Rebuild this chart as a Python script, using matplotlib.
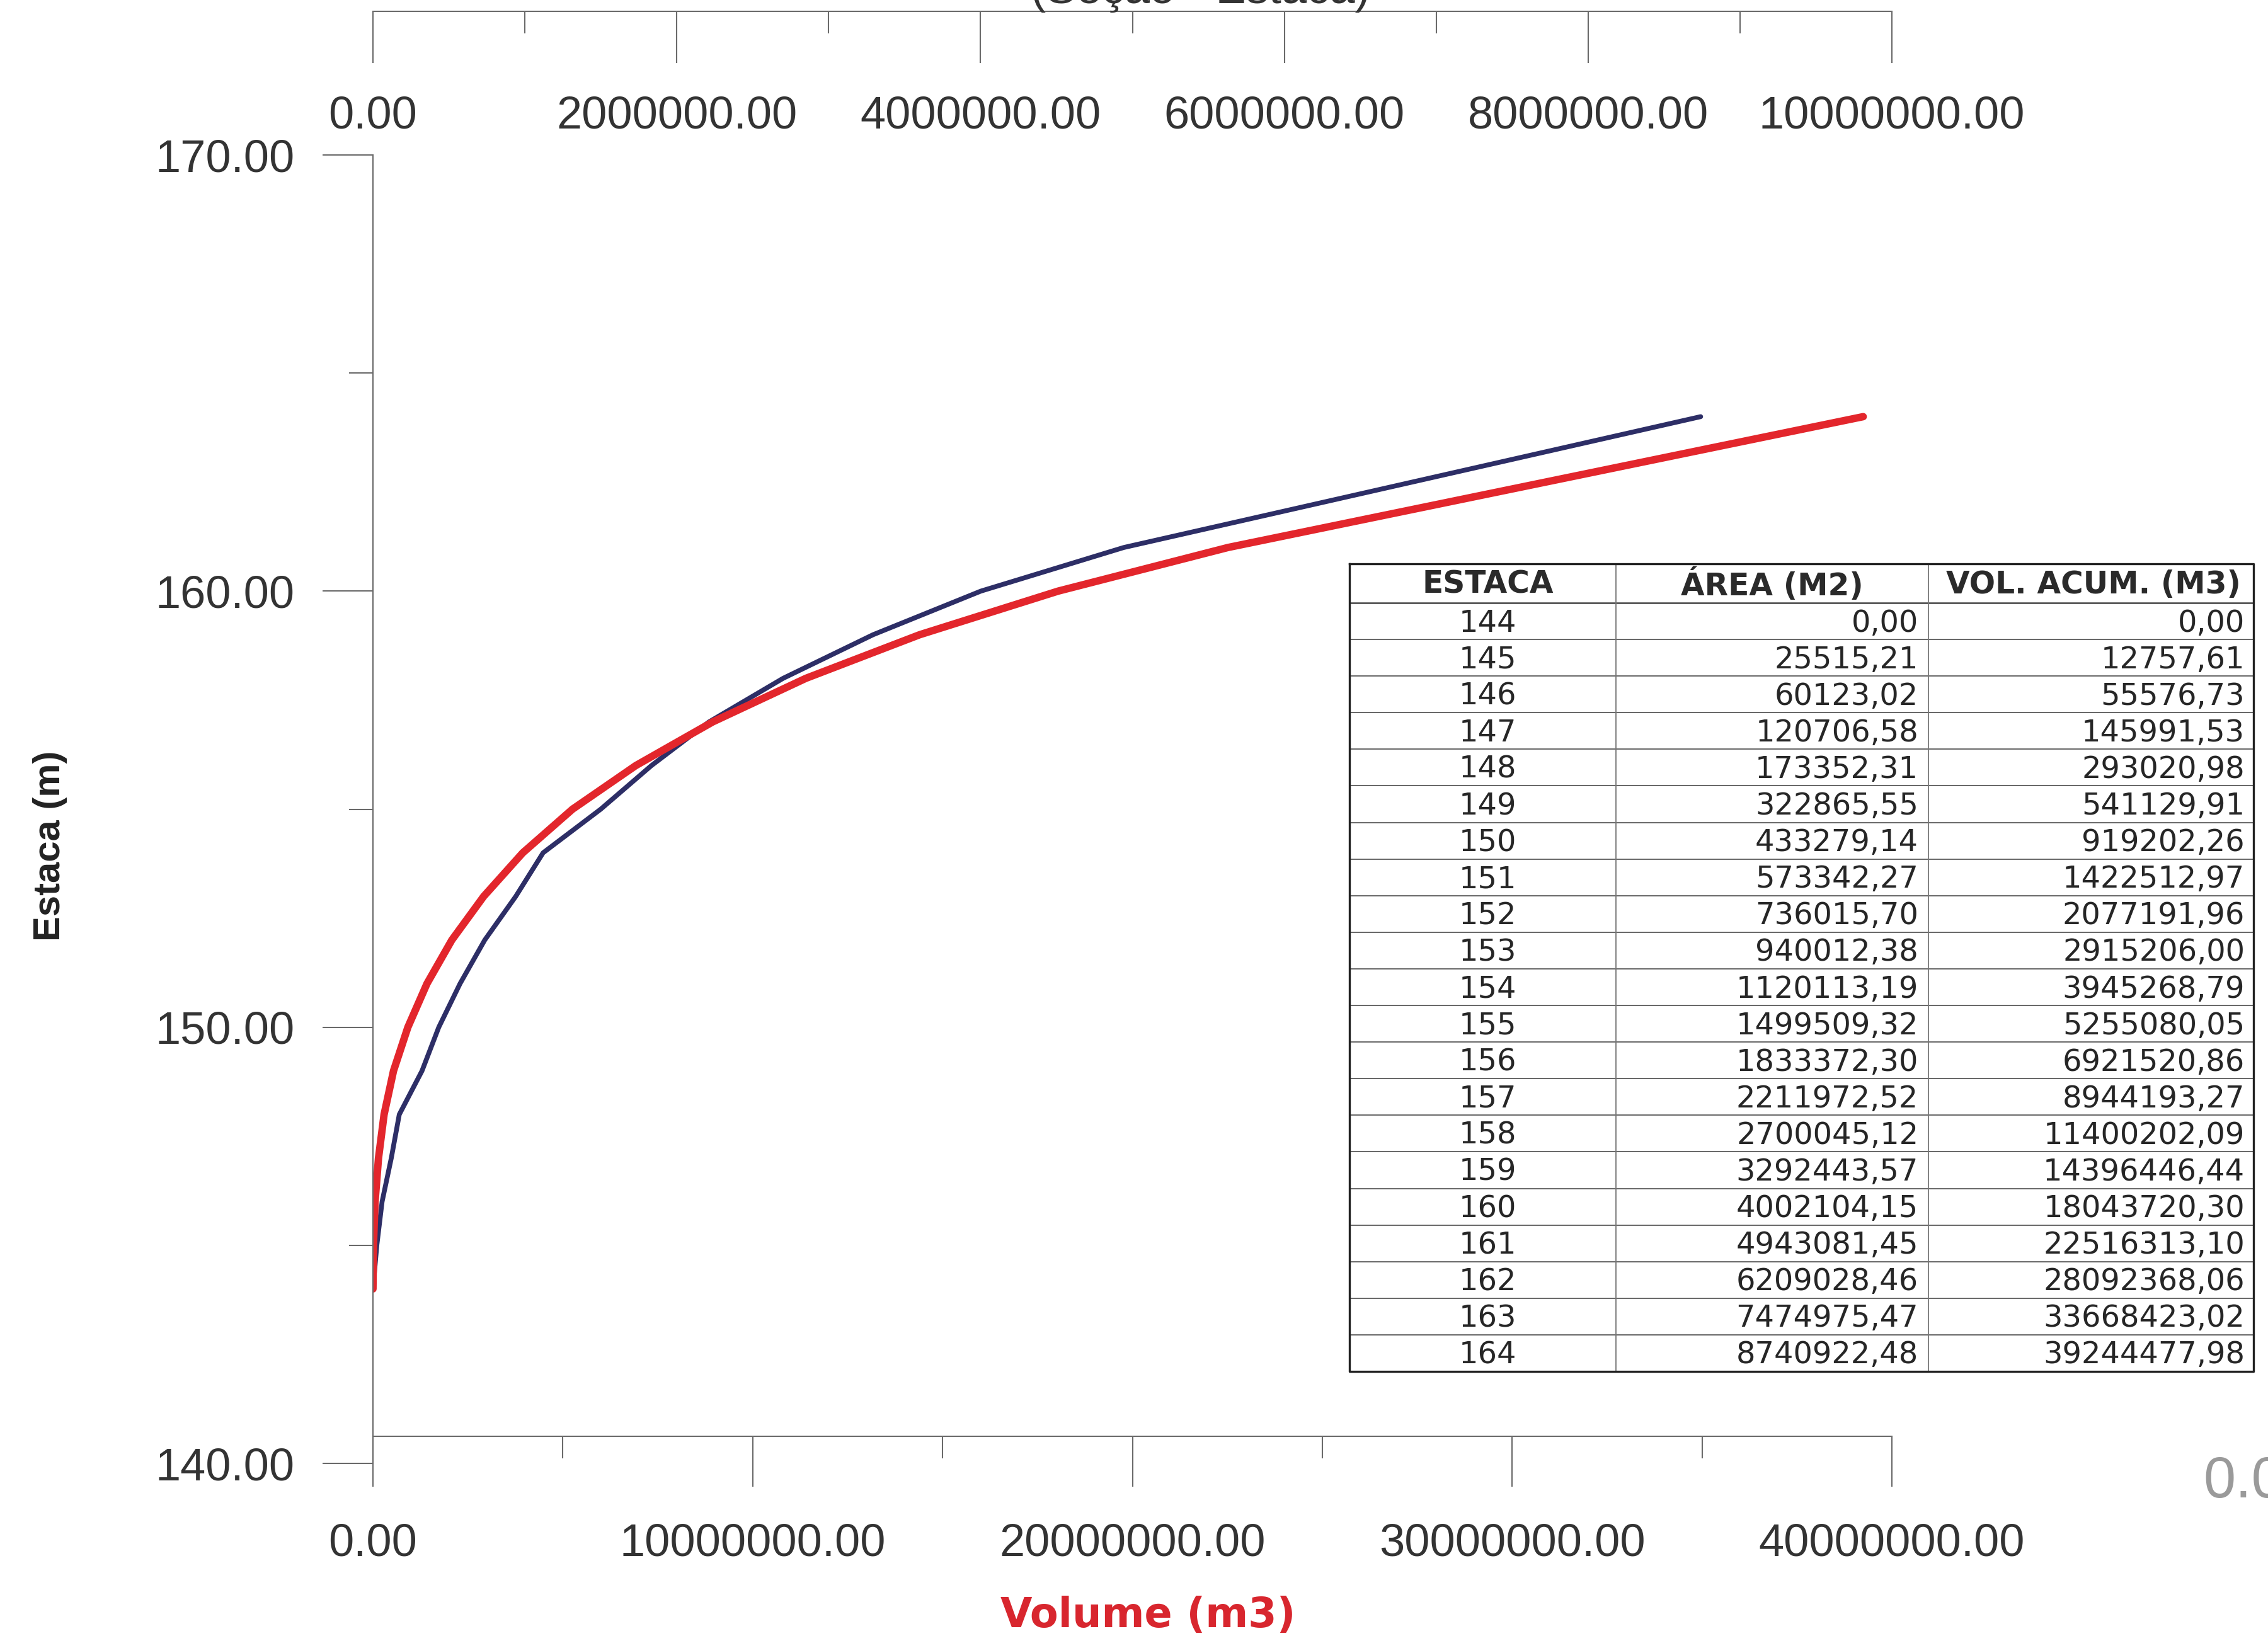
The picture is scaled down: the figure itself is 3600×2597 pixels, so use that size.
import matplotlib
matplotlib.use("Agg")
import matplotlib.pyplot as plt
from matplotlib import font_manager as fm
from matplotlib.ticker import MultipleLocator, FormatStrFormatter

# dados da tabela (estaca, area, volume acumulado)
estaca = [144, 145, 146, 147, 148, 149, 150, 151, 152, 153, 154,
          155, 156, 157, 158, 159, 160, 161, 162, 163, 164]
area_m2 = [0.00, 25515.21, 60123.02, 120706.58, 173352.31, 322865.55,
           433279.14, 573342.27, 736015.70, 940012.38, 1120113.19,
           1499509.32, 1833372.30, 2211972.52, 2700045.12, 3292443.57,
           4002104.15, 4943081.45, 6209028.46, 7474975.47, 8740922.48]
vol_m3 = [0.00, 12757.61, 55576.73, 145991.53, 293020.98, 541129.91,
          919202.26, 1422512.97, 2077191.96, 2915206.00, 3945268.79,
          5255080.05, 6921520.86, 8944193.27, 11400202.09, 14396446.44,
          18043720.30, 22516313.10, 28092368.06, 33668423.02, 39244477.98]
col_headers = ["ESTACA", "ÁREA (M2)", "VOL. ACUM. (M3)"]

W, H = 3600, 2597
fig = plt.figure(figsize=(W / 100, H / 100), dpi=100)

TICK_FONT = "Liberation Sans"
GRAY = "#6a6a6a"
TXT = "#333333"


def px(v):
    # pixels -> points (dpi 100)
    return v * 72 / 100


L, R = 592, 3003
T, B = 246, 2323
ax = fig.add_axes([L / W, 1 - B / H, (R - L) / W, (B - T) / H])
axb = ax.twiny()

# linhas
axb.plot(area_m2, estaca, color="#2d2e66", lw=5.5, solid_capstyle="round")
axb.set_xlim(0, 10000000)
axb.set_ylim(140, 170)
axb.axis("off")

ax.plot(vol_m3, estaca, color="#e3262c", lw=8.5, solid_capstyle="round")
ax.set_xlim(0, 40000000)
ax.set_ylim(140, 170)
ax.set_zorder(axb.get_zorder() + 1)
ax.patch.set_visible(False)

for s in ["top", "right"]:
    ax.spines[s].set_visible(False)
ax.spines["left"].set_color(GRAY)
ax.spines["bottom"].set_color(GRAY)
ax.spines["left"].set_linewidth(1.5)
ax.spines["bottom"].set_linewidth(1.5)
ax.spines["bottom"].set_position(("axes", (B - 2280) / (B - T)))

ax.yaxis.set_major_locator(MultipleLocator(10))
ax.yaxis.set_minor_locator(MultipleLocator(5))
ax.xaxis.set_major_locator(MultipleLocator(10000000))
ax.xaxis.set_minor_locator(MultipleLocator(5000000))
ax.yaxis.set_major_formatter(FormatStrFormatter("%.2f"))
ax.xaxis.set_major_formatter(FormatStrFormatter("%.2f"))
ax.tick_params(axis="y", which="major", direction="out", length=px(80),
               width=1.5, color=GRAY, pad=px(44), labelsize=52, labelcolor=TXT)
ax.tick_params(axis="y", which="minor", direction="out", length=px(38),
               width=1.5, color=GRAY)
ax.tick_params(axis="x", which="major", direction="out", length=px(80),
               width=1.5, color=GRAY, pad=px(58), labelsize=52, labelcolor=TXT)
ax.tick_params(axis="x", which="minor", direction="out", length=px(35),
               width=1.5, color=GRAY)
for lab in ax.get_xticklabels() + ax.get_yticklabels():
    lab.set_fontfamily(TICK_FONT)

# eixo superior (area)
top_y = 18
axt = fig.add_axes([L / W, 1 - top_y / H, (R - L) / W, 0.0001])
axt.set_xlim(0, 10000000)
axt.patch.set_visible(False)
for s in ["top", "right", "left"]:
    axt.spines[s].set_visible(False)
axt.spines["bottom"].set_color(GRAY)
axt.spines["bottom"].set_linewidth(1.5)
axt.set_yticks([])
axt.xaxis.set_major_locator(MultipleLocator(2000000))
axt.xaxis.set_minor_locator(MultipleLocator(1000000))
axt.xaxis.set_major_formatter(FormatStrFormatter("%.2f"))
axt.tick_params(axis="x", which="major", direction="out", length=px(82),
                width=1.5, color=GRAY, pad=px(51), labelsize=52, labelcolor=TXT)
axt.tick_params(axis="x", which="minor", direction="out", length=px(35),
                width=1.5, color=GRAY)
for lab in axt.get_xticklabels():
    lab.set_fontfamily(TICK_FONT)

# titulo do grafico, cortado na borda de cima como no original
fig.text(1905 / W, 1 - 5 / H, "(Seção - Estaca)", ha="center", va="baseline",
         fontsize=52, color=TXT, family=TICK_FONT)

names = {f.name for f in fm.fontManager.ttflist}
if "Liberation Sans Narrow" in names:
    fig.text(80 / W, 1 - 1343 / H, "Estaca (m)", rotation=90, ha="center",
             va="center", fontsize=50, weight="bold", color="#222222",
             family="Liberation Sans Narrow")
else:
    fig.text(80 / W, 1 - 1343 / H, "Estaca (m)", rotation=90, ha="center",
             va="center", fontsize=43, weight="bold", color="#222222",
             family="Liberation Sans")

fig.text(1822 / W, 1 - 2565 / H, "Volume (m3)", ha="center", va="center",
         fontsize=47, weight="bold", color="#d8262e", family="DejaVu Sans")

# pedaco de outro grafico cortado na margem direita
fig.text(3497 / W, 1 - 2353 / H, "0.00", ha="left", va="center",
         fontsize=66, color="#9a9a9a", family=TICK_FONT)

# tabela
ov = fig.add_axes([0, 0, 1, 1], zorder=10)
ov.set_xlim(0, W)
ov.set_ylim(H, 0)
ov.axis("off")

tx0, tx1, tx2, tx3 = 2142, 2565, 3061, 3577
ty0, ty_head, ty1 = 895, 957, 2177
nrows = len(estaca)
rh = (ty1 - ty_head) / nrows

ov.fill([tx0, tx3, tx3, tx0], [ty0, ty0, ty1, ty1], color="white", zorder=1)
for k in range(1, nrows):
    yy = ty_head + k * rh
    ov.plot([tx0, tx3], [yy, yy], color="#666666", lw=1.4, zorder=2)
ov.plot([tx0, tx3], [ty_head, ty_head], color="#444444", lw=1.8, zorder=2)
for xx in (tx1, tx2):
    ov.plot([xx, xx], [ty0, ty1], color="#777777", lw=1.3, zorder=2)
ov.plot([tx0, tx3, tx3, tx0, tx0], [ty0, ty0, ty1, ty1, ty0],
        color="#222222", lw=2.4, zorder=3)

hy = (ty0 + ty_head) / 2 + 2
hdr_kw = dict(ha="center", va="center", fontsize=35, weight="bold",
              color="#2a2a2a", family="DejaVu Sans")
ov.text((tx0 + tx1) / 2 + 8, hy, col_headers[0], **hdr_kw)
ov.text((tx1 + tx2) / 2, hy, col_headers[1], **hdr_kw)
ov.text((tx2 + tx3) / 2 + 4, hy, col_headers[2], **hdr_kw)


def br(v):
    return f"{v:.2f}".replace(".", ",")


cell_kw = dict(va="center", fontsize=34.5, color="#262626", family="DejaVu Sans")
for k in range(nrows):
    yy = ty_head + (k + 0.5) * rh + 3
    ov.text((tx0 + tx1) / 2 + 8, yy, str(estaca[k]), ha="center", **cell_kw)
    ov.text(tx2 - 16, yy, br(area_m2[k]), ha="right", **cell_kw)
    ov.text(tx3 - 14, yy, br(vol_m3[k]), ha="right", **cell_kw)

fig.savefig("out.png", dpi=100)
